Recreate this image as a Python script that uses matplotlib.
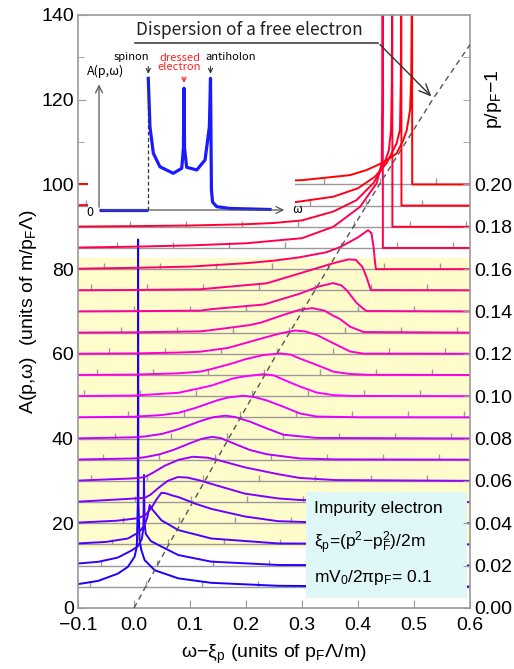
import numpy as np
import matplotlib.pyplot as plt
from matplotlib.patches import Rectangle
from matplotlib.transforms import Affine2D

plt.rcParams['font.family'] = ['Liberation Sans', 'DejaVu Sans']
plt.rcParams['mathtext.fontset'] = 'custom'
plt.rcParams['mathtext.rm'] = 'Liberation Sans'
plt.rcParams['mathtext.it'] = 'Liberation Sans:italic'

# offsets of the curves (A axis) and their p/pF-1 labels
row_base = [5, 10, 15, 20, 25, 30, 35, 40, 45, 50,
            55, 60, 65, 70, 75, 80, 85, 90, 95, 100]
dp_ticks = [0, 10, 20, 30, 40, 50, 60, 70, 80, 90, 100]
dp_labels = ['0.00', '0.02', '0.04', '0.06', '0.08', '0.10',
             '0.12', '0.14', '0.16', '0.18', '0.20']
# x position of the first small tick on each baseline (ticks every 0.1)
tick_off = [-0.079, -0.059, -0.040, -0.020, 0.001, -0.077, -0.055, -0.0345,
            -0.0107, -0.089, -0.067, -0.045, -0.024, 0.0, -0.077, -0.054,
            -0.031, -0.008, -0.085, -0.060]

# spectral curves: x = omega - xi_p, h = height above the row baseline
r01_x = [-0.1, -0.064, -0.029, -0.011, 0.001, 0.005, 0.0068, 0.0073, 0.0078, 0.010, 0.013, 0.019, 0.037, 0.079, 0.138, 0.257, 0.40, 0.6]
r01_h = [0.63, 1.4, 3.1, 4.7, 7.1, 9.5, 20, 82, 20, 11, 8.7, 6.3, 3.9, 2.0, 0.94, 0.24, 0.1, 0.05]
r02_x = [-0.1, -0.064, -0.029, -0.004, 0.007, 0.014, 0.0168, 0.0178, 0.0188, 0.021, 0.030, 0.049, 0.079, 0.138, 0.257, 0.6]
r02_h = [0.5, 0.9, 1.9, 3.6, 4.6, 6.3, 9.0, 21.4, 10.0, 7.5, 5.8, 4.5, 2.5, 0.94, 0.16, 0.02]
r03_x = [-0.1, -0.05, -0.011, 0.005, 0.012, 0.019, 0.024, 0.028, 0.033, 0.049, 0.079, 0.138, 0.257, 0.6]
r03_h = [0.24, 0.6, 1.4, 2.6, 3.4, 4.6, 6.5, 9.3, 8.2, 5.7, 3.4, 1.4, 0.24, 0.02]
r04_x = [-0.1, -0.031, 0.007, 0.020, 0.031, 0.040, 0.049, 0.056, 0.070, 0.079, 0.110, 0.138, 0.198, 0.257, 0.35, 0.6]
r04_h = [0.16, 0.6, 1.2, 1.9, 3.6, 5.6, 7.2, 7.1, 6.5, 6.2, 4.6, 3.4, 1.6, 0.5, 0.1, 0.02]
r05_x = [-0.1, -0.031, 0.019, 0.029, 0.046, 0.060, 0.078, 0.095, 0.118, 0.138, 0.177, 0.198, 0.257, 0.296, 0.37, 0.6]
r05_h = [0.1, 0.6, 1.0, 1.7, 3.6, 5.0, 5.9, 5.8, 5.1, 4.3, 2.8, 2.0, 0.87, 0.5, 0.15, 0.02]
r06_x = [-0.1, 0.0, 0.019, 0.032, 0.055, 0.080, 0.105, 0.130, 0.148, 0.198, 0.257, 0.296, 0.36, 0.6]
r06_h = [0.08, 0.6, 0.9, 1.8, 3.6, 5.0, 5.7, 5.5, 5.0, 3.2, 1.6, 0.7, 0.2, 0.02]
r07_x = [-0.1, 0.0, 0.02, 0.046, 0.07, 0.1, 0.12, 0.139, 0.155, 0.177, 0.207, 0.237, 0.296, 0.36, 0.6]
r07_h = [0.05, 0.3, 0.6, 1.3, 2.3, 3.9, 4.9, 5.4, 5.1, 3.9, 2.3, 1.3, 0.3, 0.08, 0.02]
r08_x = [-0.1, 0.0, 0.02, 0.05, 0.079, 0.118, 0.14, 0.163, 0.18, 0.207, 0.237, 0.267, 0.326, 0.6]
r08_h = [0.05, 0.3, 0.5, 1.1, 2.2, 4.1, 5.0, 5.4, 5.1, 4.0, 2.4, 0.9, 0.15, 0.02]
r09_x = [-0.1, 0.0, 0.049, 0.08, 0.109, 0.148, 0.168, 0.195, 0.215, 0.237, 0.267, 0.296, 0.326, 0.4, 0.6]
r09_h = [0.03, 0.15, 0.55, 1.1, 2.2, 4.0, 4.7, 5.1, 4.8, 4.0, 2.5, 0.94, 0.2, 0.03, 0.01]
r10_x = [-0.1, 0.0, 0.079, 0.118, 0.138, 0.177, 0.198, 0.231, 0.25, 0.267, 0.296, 0.326, 0.356, 0.39, 0.6]
r10_h = [0.03, 0.15, 0.8, 1.9, 2.5, 4.2, 4.7, 5.2, 4.9, 3.9, 2.3, 0.87, 0.25, 0.06, 0.01]
r11_x = [-0.1, 0.0, 0.079, 0.118, 0.138, 0.177, 0.198, 0.23, 0.261, 0.28, 0.296, 0.326, 0.356, 0.386, 0.42, 0.6]
r11_h = [0.02, 0.1, 0.4, 0.8, 1.4, 2.8, 3.7, 4.7, 5.1, 4.8, 3.9, 2.4, 0.8, 0.24, 0.05, 0.01]
r12_x = [-0.1, 0.0, 0.079, 0.118, 0.168, 0.227, 0.26, 0.2875, 0.305, 0.326, 0.356, 0.386, 0.41, 0.6]
r12_h = [0.02, 0.1, 0.3, 0.5, 1.4, 3.6, 4.8, 5.5, 5.3, 4.5, 2.5, 0.55, 0.05, 0.01]
r13_x = [-0.1, 0.0, 0.118, 0.138, 0.207, 0.227, 0.267, 0.296, 0.318, 0.34, 0.356, 0.368, 0.386, 0.41, 0.6]
r13_h = [0.02, 0.08, 0.3, 0.6, 1.8, 2.4, 4.2, 5.4, 5.8, 5.2, 4.0, 3.2, 1.4, 0.15, 0.01]
r14_x = [-0.1, 0.0, 0.118, 0.138, 0.232, 0.296, 0.33, 0.355, 0.37, 0.38, 0.3976, 0.41, 0.4155, 0.6]
r14_h = [0.02, 0.08, 0.2, 0.55, 1.65, 4.2, 5.9, 6.7, 6.2, 5.0, 2.0, 0.6, 0.1, 0.01]
r15_x = [-0.1, 0.0, 0.118, 0.237, 0.296, 0.356, 0.383, 0.396, 0.408, 0.4155, 0.421, 0.423, 0.6]
r15_h = [0.02, 0.08, 0.24, 1.65, 4.0, 6.4, 7.3, 7.2, 5.5, 3.0, 0.8, 0.05, 0.01]
r16_x = [-0.1, 0.0, 0.1, 0.2, 0.25, 0.296, 0.344, 0.368, 0.40, 0.418, 0.424, 0.428, 0.4305, 0.432, 0.6]
r16_h = [0.1, 0.3, 0.6, 1.4, 2.0, 2.8, 4.0, 5.2, 7.5, 9.2, 8.5, 5.0, 1.5, 0.0, 0.0]
r17_x = [-0.1, 0.0, 0.1, 0.2, 0.3, 0.356, 0.4036, 0.4334, 0.4423, 0.4435, 0.4438, 0.4442, 0.4444, 0.6]
r17_h = [0.1, 0.3, 0.6, 1.1, 2.3, 5.0, 9.7, 15.3, 20, 35, 60, 60, 0.0, 0.0]
r18_x = [-0.1, 0.0, 0.1, 0.2, 0.25, 0.3, 0.356, 0.3975, 0.4275, 0.445, 0.455, 0.459, 0.4605, 0.4608, 0.4612, 0.4614, 0.6]
r18_h = [0.05, 0.15, 0.3, 0.6, 0.9, 1.5, 3.6, 6.3, 10.3, 14.2, 18, 23, 35, 55, 55, 0.0, 0.0]
r19_x = [-0.1, 0.0, 0.1, 0.2, 0.29, 0.356, 0.40, 0.43, 0.451, 0.469, 0.475, 0.4765, 0.4770, 0.4774, 0.4776, 0.6]
r19_h = [0.1, 0.25, 0.4, 0.6, 0.85, 2.1, 4.1, 6.8, 10, 14.7, 18, 30, 50, 50, 0.0, 0.0]
r20_x = [-0.1, 0.0, 0.1, 0.2, 0.3, 0.386, 0.4155, 0.445, 0.469, 0.481, 0.487, 0.493, 0.495, 0.4962, 0.4966, 0.4968, 0.6]
r20_h = [0.1, 0.2, 0.35, 0.6, 1.0, 2.2, 3.4, 5.2, 7.3, 10.5, 12.8, 17.6, 25, 45, 45, 0.0, 0.0]

# free-electron dispersion (dashed)
disp_x = [0.0, 0.06, 0.118, 0.171, 0.255, 0.368, 0.45, 0.5345, 0.6]
disp_y = [0.0, 14.5, 28.0, 40.5, 60.0, 84.9, 102.5, 120.3, 133.0]

# inset sketch (arbitrary omega, A units)
ins_w = [0.262, 0.271, 0.289, 0.324, 0.395, 0.44, 0.449, 0.452, 0.455, 0.466, 0.52, 0.564, 0.587, 0.593, 0.598, 0.604, 0.626, 0.697, 0.91]
ins_a = [1.026, 0.649, 0.442, 0.337, 0.286, 0.325, 0.483, 0.949, 0.483, 0.333, 0.312, 0.39, 0.649, 1.026, 0.156, 0.062, 0.026, 0.012, 0.004]
ins_flat_w = [0.0, 0.261]
ins_flat_a = [0.0, 0.0]

rows_x = [r01_x, r02_x, r03_x, r04_x, r05_x, r06_x, r07_x, r08_x, r09_x, r10_x,
          r11_x, r12_x, r13_x, r14_x, r15_x, r16_x, r17_x, r18_x, r19_x, r20_x]
rows_h = [r01_h, r02_h, r03_h, r04_h, r05_h, r06_h, r07_h, r08_h, r09_h, r10_h,
          r11_h, r12_h, r13_h, r14_h, r15_h, r16_h, r17_h, r18_h, r19_h, r20_h]

fig = plt.figure(figsize=(5.14, 6.69), dpi=100)
ax = fig.add_axes([0.1518, 0.0912, 0.7626, 0.8864])
ax.set_xlim(-0.1, 0.6)
ax.set_ylim(0, 140)

gray = '#9a9a9a'
ax.axhspan(14.2, 82.6, color='#fffccc', zorder=0, lw=0)

for k, base in enumerate(row_base):
    ax.axhline(base, color=gray, lw=1.0, zorder=1)
    xs = [tick_off[k] + 0.1 * n for n in range(8)]
    xs = [x for x in xs if -0.1 < x < 0.6]
    ax.vlines(xs, base, base + 1.4, color=gray, lw=1.0, zorder=1)

for k, base in enumerate(row_base):
    t = (k + 1) / 20
    col = (min(1, 2 * t), 0, min(1, 2 * (1 - t)))
    y = base + np.array(rows_h[k])
    ax.plot(rows_x[k], y, color=col, lw=1.4, zorder=2)

ax.plot(disp_x, disp_y, color='#555555', lw=1.0, ls=(0, (4, 3)), zorder=3)

# inset
ax.add_patch(Rectangle((-0.082, 92.1), 0.3695, 47.5, facecolor='white', edgecolor='none', zorder=5))
tr = Affine2D().scale(0.3357, 30.29).translate(-0.0625, 93.96) + ax.transData
ax.plot(ins_flat_w, ins_flat_a, color='#1a1aff', lw=2.3, transform=tr, zorder=6, solid_capstyle='butt')
ax.plot(ins_w, ins_a, color='#1a1aff', lw=2.3, transform=tr, zorder=6)
ax.plot([0.262, 0.262], [0.0, 1.0], color='#333333', lw=0.9, ls=(0, (3, 2)), transform=tr, zorder=6)
arr = dict(arrowstyle='->,head_length=0.5,head_width=0.25', color='#555555', lw=0.9)
ax.annotate('', xy=(0.0, 1.0), xytext=(0.0, 0.0), xycoords=tr, arrowprops=arr, zorder=6)
ax.annotate('', xy=(1.0, 0.0), xytext=(0.0, 0.0), xycoords=tr, arrowprops=arr, zorder=6)
ins_font = ['Noto Sans CJK JP', 'DejaVu Sans']
ax.text(-0.03, -0.02, '0', transform=tr, ha='right', va='center', fontsize=9, family=ins_font, zorder=7)
ax.text(1.03, 0.0, 'ω', transform=tr, ha='left', va='center', fontsize=9, family=ins_font, zorder=7)
ax.text(0.037, 1.08, 'A(p,ω)', transform=tr, ha='center', va='center', fontsize=9, family=ins_font, zorder=7)
ax.text(0.174, 1.19, 'spinon', transform=tr, ha='center', va='center', fontsize=8, family=ins_font, zorder=7)
ax.text(0.428, 1.15, 'dressed\nelectron', transform=tr, ha='center', va='center', fontsize=8,
        family=ins_font, color='#ff2020', linespacing=0.85, zorder=7)
ax.text(0.70, 1.19, 'antiholon', transform=tr, ha='center', va='center', fontsize=8, family=ins_font, zorder=7)
small = dict(arrowstyle='->,head_length=0.3,head_width=0.15', lw=0.8)
ax.annotate('', xy=(0.262, 1.04), xytext=(0.262, 1.14), xycoords=tr, arrowprops=dict(small, color='#333333'), zorder=7)
ax.annotate('', xy=(0.593, 1.04), xytext=(0.593, 1.14), xycoords=tr, arrowprops=dict(small, color='#333333'), zorder=7)
ax.annotate('', xy=(0.452, 0.97), xytext=(0.452, 1.06), xycoords=tr, arrowprops=dict(small, color='#ff2020'), zorder=7)

# dispersion annotation
ax.text(0.004, 134.3, 'Dispersion of a free electron', fontsize=12.5, family=ins_font,
        ha='left', va='bottom', color='#222222', zorder=8)
ax.plot([0.0018, 0.4357], [133.5, 133.5], color='#333333', lw=1.1, zorder=8)
ax.annotate('', xy=(0.5345, 120.3), xytext=(0.4357, 133.5),
            arrowprops=dict(arrowstyle='->,head_length=0.8,head_width=0.35', color='#333333', lw=1.0),
            zorder=8)

# legend box
ax.add_patch(Rectangle((0.308, 2.3), 0.286, 25.2, facecolor='#e0f7f8', edgecolor='none', zorder=5))
ax.text(0.321, 23.4, 'Impurity electron', fontsize=12.5, va='center', zorder=6)
ax.text(0.321, 15.3, 'ξ$_\\mathrm{p}$=(p$^2$−p$_\\mathrm{F}^2$)/2m', fontsize=12.5, va='center', zorder=6)
ax.text(0.321, 7.3, 'mV$_0$/2πp$_\\mathrm{F}$= 0.1', fontsize=12.5, va='center', zorder=6)

# axes styling
for s in ax.spines.values():
    s.set_color(gray)
    s.set_linewidth(1.2)
ax.set_xticks([-0.1, 0.0, 0.1, 0.2, 0.3, 0.4, 0.5, 0.6])
ax.set_xticklabels(['−0.1', '0.0', '0.1', '0.2', '0.3', '0.4', '0.5', '0.6'])
ax.set_yticks([0, 20, 40, 60, 80, 100, 120, 140])
ax.set_yticks([10, 30, 50, 70, 90, 110, 130], minor=True)
ax.tick_params(axis='both', which='both', direction='in', color=gray, labelsize=14)
ax.tick_params(axis='both', which='major', length=6, pad=3)
ax.tick_params(axis='y', which='minor', length=4)
ax.tick_params(axis='x', pad=6.5)

ax2 = ax.twinx()
ax2.set_ylim(0, 140)
ax2.set_yticks(dp_ticks)
ax2.set_yticklabels(dp_labels)
ax2.set_yticks([110, 120, 130], minor=True)
ax2.tick_params(axis='y', which='both', direction='in', color=gray, labelsize=14, length=5, pad=3)
for s in ax2.spines.values():
    s.set_visible(False)

ax.set_xlabel('ω−ξ$_\\mathrm{p}$ (units of p$_\\mathrm{F}$Λ/m)', fontsize=14)
ax.xaxis.set_label_coords(0.5, -0.059)
ax.set_ylabel('A(p,ω)  (units of m/p$_\\mathrm{F}$Λ)', fontsize=14)
ax.yaxis.set_label_coords(-0.10, 0.5)
fig.text(494 / 514, 1 - 99 / 669, 'p/p$_\\mathrm{F}$−1', rotation=90, ha='center', va='center', fontsize=14)

fig.savefig('out.png', dpi=100)
